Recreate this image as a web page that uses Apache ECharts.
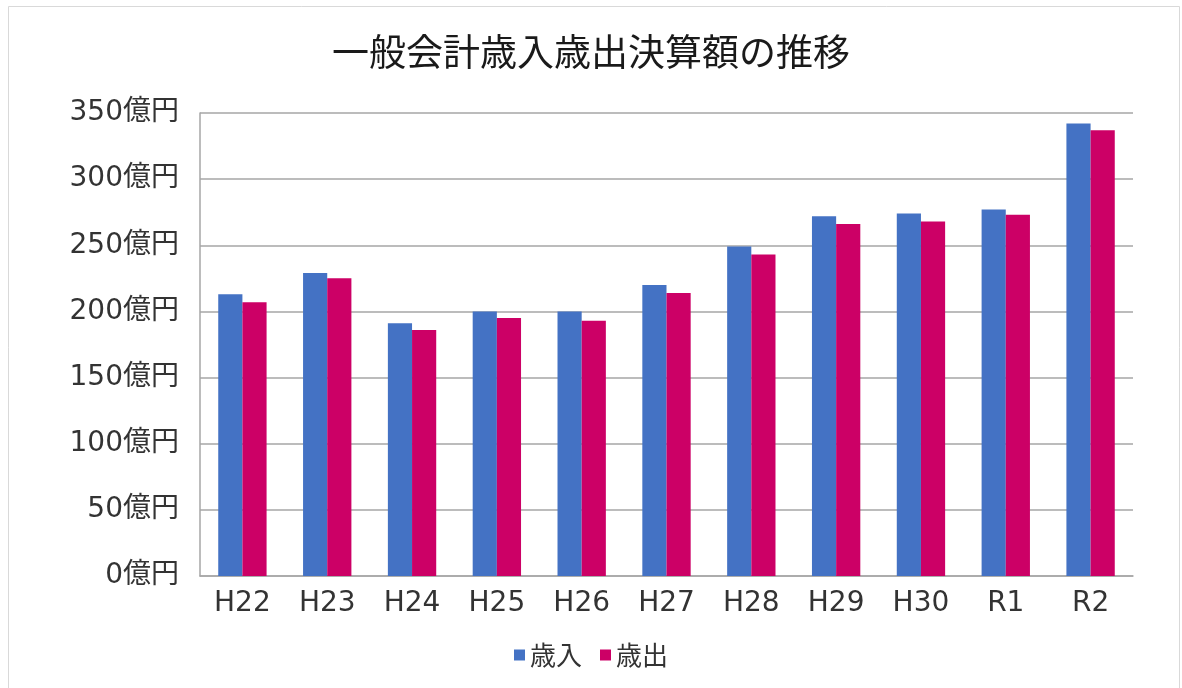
<!DOCTYPE html>
<html>
<head>
<meta charset="utf-8">
<script src="https://cdn.jsdelivr.net/npm/echarts@6/dist/echarts.min.js"></script>
<style>
html,body{margin:0;padding:0;background:#fff;}
#chart{width:1182px;height:688px;}
</style>
</head>
<body>
<div id="chart"></div>
<script>
const titleText = '一般会計歳入歳出決算額の推移';
const categories = ['H22','H23','H24','H25','H26','H27','H28','H29','H30','R1','R2'];
const revenue = [213, 229, 191, 200, 200, 220, 249, 272, 274, 277, 342];
const expenditure = [207, 225, 186, 195, 193, 214, 243, 266, 268, 273, 337];
const seriesNames = ['歳入', '歳出'];
const yUnit = '億円';

const FONT = 'DejaVu Sans, "Noto Sans CJK JP", sans-serif';
const chart = echarts.init(document.getElementById('chart'), null, {renderer: 'canvas'});
chart.setOption({
  backgroundColor: '#ffffff',
  animation: false,
  graphic: [{
    type: 'rect', silent: true, z: -1,
    shape: {x: 8.5, y: 6.5, width: 1171, height: 700},
    style: {fill: 'none', stroke: '#d9d9d9', lineWidth: 1}
  }],
  title: {
    text: titleText, left: 'center', top: 28,
    textStyle: {fontFamily: '"Noto Sans CJK JP", sans-serif', fontSize: 37, fontWeight: 'normal', color: '#1a1a1a'}
  },
  legend: {
    data: seriesNames, bottom: 15, left: 'center',
    itemWidth: 11, itemHeight: 11, itemGap: 18,
    icon: 'rect',
    textStyle: {fontFamily: '"Noto Sans CJK JP", sans-serif', fontSize: 26, color: '#333'}
  },
  grid: {left: 200, right: 49, top: 113, bottom: 112, containLabel: false},
  xAxis: {
    type: 'category', data: categories,
    axisLine: {show: true, lineStyle: {color: '#a6a6a6', width: 1.5}},
    axisTick: {show: false},
    axisLabel: {margin: 14, fontFamily: FONT, fontSize: 28, color: '#333'}
  },
  yAxis: {
    type: 'value', min: 0, max: 350, interval: 50,
    axisLine: {show: true, lineStyle: {color: '#a6a6a6', width: 1.5}},
    axisTick: {show: false},
    splitLine: {lineStyle: {color: '#a6a6a6', width: 1.5}},
    axisLabel: {margin: 21, fontFamily: FONT, fontSize: 28, color: '#333',
      padding: [6, 0, 0, 0],
      formatter: v => v + yUnit}
  },
  series: [
    {name: seriesNames[0], type: 'bar', data: revenue, barGap: '0%', barCategoryGap: '43%',
     itemStyle: {color: '#4472C4'}},
    {name: seriesNames[1], type: 'bar', data: expenditure, barGap: '0%', barCategoryGap: '43%',
     itemStyle: {color: '#CC0066'}}
  ]
});
</script>
</body>
</html>
